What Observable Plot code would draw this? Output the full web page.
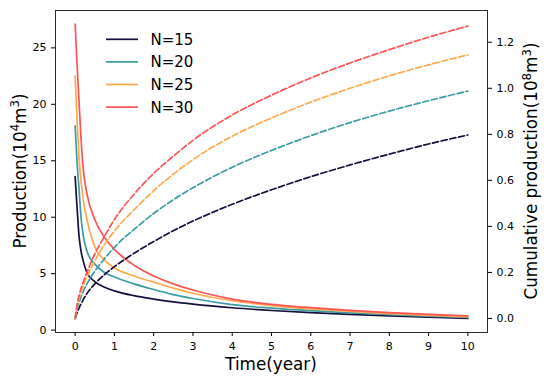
<!DOCTYPE html>
<html><head><meta charset="utf-8">
<script src="https://cdn.jsdelivr.net/npm/d3@7"></script>
<script src="https://cdn.jsdelivr.net/npm/@observablehq/plot@0.6"></script>
<style>body{margin:0;background:#fff}</style>
</head><body><div id="chart"></div>
<script>
const years = [0, 0.05, 0.1, 0.15, 0.2, 0.3, 0.5, 0.75, 1, 1.5, 2, 2.5, 3, 4, 5, 6, 7, 8, 9, 10];
const seriesNames = ["N=15", "N=20", "N=25", "N=30"];
const seriesColors = ["#15103e", "#3a9ca3", "#ffa94d", "#fd5454"];

// Production (10^4 m^3), left axis
const prodN15 = [13.6, 10.8, 8.3, 7.0, 6.2, 5.1, 4.3, 3.8, 3.48, 3.05, 2.75, 2.5, 2.3, 1.98, 1.74, 1.55, 1.4, 1.27, 1.15, 1.04];
const prodN20 = [18.1, 14.8, 12.5, 10.0, 8.5, 7.0, 5.85, 5.1, 4.7, 4.1, 3.6, 3.15, 2.8, 2.26, 1.95, 1.72, 1.53, 1.38, 1.24, 1.12];
const prodN25 = [22.5, 18.5, 15.3, 13.2, 11.7, 9.8, 7.4, 6.2, 5.5, 4.8, 4.25, 3.72, 3.27, 2.6, 2.17, 1.88, 1.65, 1.47, 1.31, 1.18];
const prodN30 = [27.1, 23.5, 20.2, 17.0, 14.5, 12.1, 9.8, 8.2, 7.15, 5.75, 4.8, 4.1, 3.55, 2.75, 2.28, 1.99, 1.75, 1.55, 1.4, 1.27];

// Cumulative production (10^8 m^3), right axis
const cumN15 = [0, 0.025, 0.045, 0.063, 0.08, 0.108, 0.15, 0.191, 0.225, 0.283, 0.334, 0.381, 0.423, 0.496, 0.559, 0.616, 0.667, 0.714, 0.758, 0.797];
const cumN20 = [0, 0.04, 0.07, 0.094, 0.115, 0.15, 0.205, 0.26, 0.309, 0.387, 0.456, 0.516, 0.568, 0.657, 0.73, 0.794, 0.851, 0.901, 0.946, 0.988];
const cumN25 = [0, 0.05, 0.085, 0.113, 0.138, 0.18, 0.25, 0.322, 0.38, 0.472, 0.555, 0.627, 0.69, 0.792, 0.871, 0.94, 1.0, 1.054, 1.102, 1.145];
const cumN30 = [0, 0.06, 0.1, 0.13, 0.155, 0.2, 0.28, 0.358, 0.43, 0.54, 0.63, 0.705, 0.774, 0.884, 0.97, 1.045, 1.11, 1.168, 1.222, 1.27];

const xTicks = [0, 1, 2, 3, 4, 5, 6, 7, 8, 9, 10];
const leftTicks = [0, 5, 10, 15, 20, 25];
const rightTicks = [0, 0.2, 0.4, 0.6, 0.8, 1.0, 1.2];

const xDomain = [-0.5, 10.5];
const leftDomain = [-0.21, 28.31];
const rightDomain = [-0.061, 1.338];
const k = (leftDomain[1] - leftDomain[0]) / (rightDomain[1] - rightDomain[0]);
const toLeft = c => leftDomain[0] + (c - rightDomain[0]) * k;
const toRight = q => rightDomain[0] + (q - leftDomain[0]) / k;

const prodSeries = [prodN15, prodN20, prodN25, prodN30];
const cumSeries = [cumN15, cumN20, cumN25, cumN30];
const prodRows = [], cumRows = [];
seriesNames.forEach((s, i) => {
  years.forEach((t, j) => {
    prodRows.push({series: s, t, v: prodSeries[i][j]});
    cumRows.push({series: s, t, v: cumSeries[i][j]});
  });
});

const font = "DejaVu Sans";
const chart = Plot.plot({
  width: 550, height: 382,
  marginLeft: 55, marginRight: 63, marginTop: 10, marginBottom: 50,
  style: {fontFamily: font, fontSize: "11px", background: "white", color: "#000"},
  x: {domain: xDomain},
  y: {domain: leftDomain},
  color: {domain: seriesNames, range: seriesColors},
  marks: [
    Plot.line(prodRows, {x: "t", y: "v", z: "series", stroke: "series", strokeWidth: 1.7, curve: "monotone-x"}),
    Plot.line(cumRows, {x: "t", y: d => toLeft(d.v), z: "series", stroke: "series", strokeWidth: 1.7, strokeDasharray: "6.2,2.7", curve: "monotone-x"}),
    Plot.frame({stroke: "#2a2a2a", strokeWidth: 1}),
    Plot.axisX({ticks: xTicks, tickSize: 4, tickPadding: 5.5, label: null}),
    Plot.axisY({ticks: leftTicks, tickSize: 4, tickPadding: 5, label: null}),
    Plot.axisY({anchor: "right", ticks: rightTicks.map(toLeft), tickFormat: d => toRight(d).toFixed(1), tickSize: 4, tickPadding: 5, label: null})
  ]
});
document.getElementById("chart").appendChild(chart);

const svg = d3.select(chart);
// Legend
const leg = svg.append("g").attr("font-family", font).attr("font-size", 15).attr("text-anchor", "start");
seriesNames.forEach((n, i) => {
  const y = 39.3 + i * 22.6;
  leg.append("line").attr("x1", 106).attr("x2", 138).attr("y1", y).attr("y2", y)
    .attr("stroke", seriesColors[i]).attr("stroke-width", 1.7);
  leg.append("text").attr("x", 150.5).attr("y", y).attr("dy", "0.36em").attr("fill", "#000").text(n);
});

// Axis titles
const fs = 16.8;
const supShift = 6.5;
function supLabel(g, parts) {
  const t = g.append("text").attr("font-family", font).attr("font-size", fs)
    .attr("text-anchor", "middle").attr("fill", "#000");
  let raised = false;
  parts.forEach(([txt, sup]) => {
    const ts = t.append("tspan").text(txt);
    if (sup) {
      ts.attr("font-size", fs * 0.7).attr("dy", raised ? 0 : -supShift);
      raised = true;
    } else {
      ts.attr("dy", raised ? supShift : 0);
      raised = false;
    }
  });
  return t;
}
svg.append("text").attr("x", 271).attr("y", 369.5).attr("text-anchor", "middle")
  .attr("font-family", font).attr("font-size", fs).attr("fill", "#000").text("Time(year)");
supLabel(svg.append("g").attr("transform", "translate(25.5,171) rotate(-90)"),
  [["Production(10", false], ["4", true], ["m", false], ["3", true], [")", false]]);
supLabel(svg.append("g").attr("transform", "translate(537,171) rotate(-90)"),
  [["Cumulative production(10", false], ["8", true], ["m", false], ["3", true], [")", false]]);
</script>
</body></html>
